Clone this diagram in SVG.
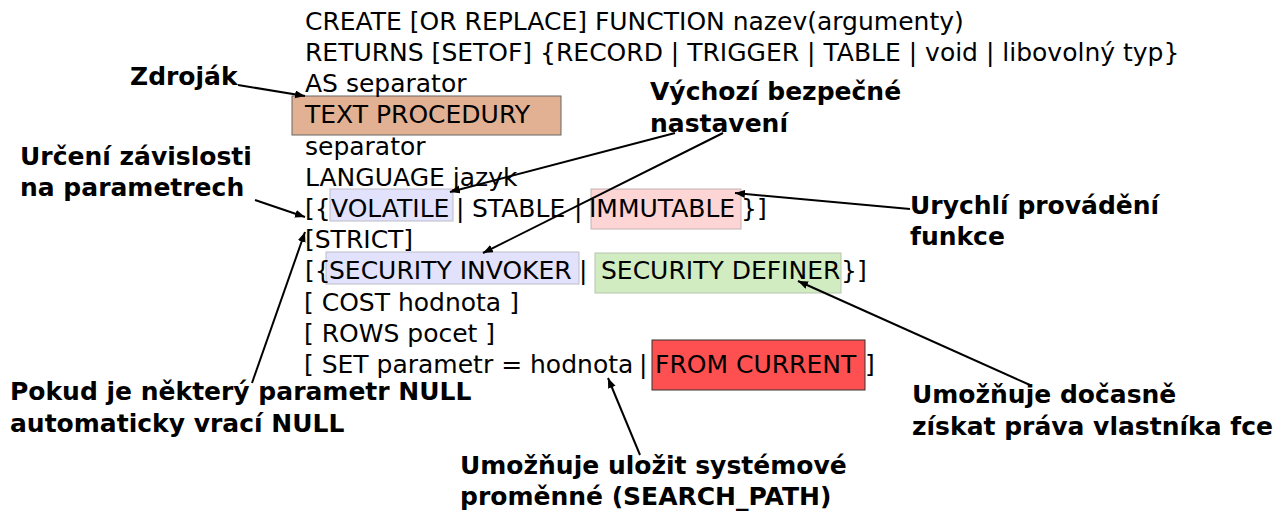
<svg xmlns="http://www.w3.org/2000/svg" width="1285" height="511" viewBox="0 0 1285 511">
<defs>
<style>
.code{font-family:"DejaVu Sans",sans-serif;font-size:25px;fill:#000}
.lbl{font-family:"DejaVu Sans",sans-serif;font-size:25px;font-weight:bold;fill:#000}
.con{stroke:#000;stroke-width:2;fill:none;marker-end:url(#ah)}
</style>
<marker id="ah" markerUnits="userSpaceOnUse" markerWidth="12" markerHeight="10" refX="10" refY="4" orient="auto">
<path d="M0,0 L10,4 L0,8 Z" fill="#000"/>
</marker>
</defs>
<rect width="1285" height="511" fill="#fff"/>
<g id="code">
<rect x="292" y="96" width="269" height="39" fill="#e2b193" stroke="#666" stroke-width="1"/>
<rect x="330" y="189" width="123" height="32" fill="#e2e2fc" stroke="#bcbcc8" stroke-width="1"/>
<rect x="591" y="189" width="150" height="40" fill="#fdd5d5" stroke="#c4b4b4" stroke-width="1"/>
<rect x="326" y="252" width="253" height="32" fill="#e2e2fc" stroke="#bcbcc8" stroke-width="1"/>
<rect x="595" y="253" width="246" height="40" fill="#d1ecc0" stroke="#b8c4b0" stroke-width="1"/>
<rect x="652" y="340" width="213" height="50" fill="#fe5050" stroke="#333" stroke-width="1"/>
<text class="code" x="305" y="30">CREATE [OR REPLACE] FUNCTION nazev(argumenty)</text>
<text class="code" x="305" y="61">RETURNS [SETOF] {RECORD | TRIGGER | TABLE | void | libovolný typ}</text>
<text class="code" x="305" y="92">AS separator</text>
<text class="code" x="305" y="123">TEXT PROCEDURY</text>
<text class="code" x="305" y="155">separator</text>
<text class="code" x="305" y="186">LANGUAGE jazyk</text>
<text class="code" y="217"><tspan x="305">[{</tspan><tspan x="331">VOLATILE</tspan><tspan x="456">|</tspan><tspan x="472">STABLE</tspan><tspan x="574">|</tspan><tspan x="589">IMMUTABLE</tspan><tspan x="741">}]</tspan></text>
<text class="code" x="305" y="248">[STRICT]</text>
<text class="code" y="279"><tspan x="305">[{</tspan><tspan x="329">SECURITY INVOKER</tspan><tspan x="579">|</tspan><tspan x="601">SECURITY DEFINER</tspan><tspan x="841">}]</tspan></text>
<text class="code" x="304" y="311">[ COST hodnota ]</text>
<text class="code" x="304" y="342">[ ROWS pocet ]</text>
<text class="code" y="373"><tspan x="304">[ SET parametr = hodnota</tspan><tspan x="639">|</tspan><tspan x="655">FROM CURRENT</tspan><tspan x="865">]</tspan></text>
</g>
<g id="zdrojak"><text class="lbl" x="130" y="85">Zdroják</text></g>
<g id="vychozi"><text class="lbl" x="650" y="100">Výchozí bezpečné</text><text class="lbl" x="650" y="132">nastavení</text></g>
<g id="urceni"><text class="lbl" x="20" y="165">Určení závislosti</text><text class="lbl" x="20" y="196">na parametrech</text></g>
<g id="urychli"><text class="lbl" x="910" y="214">Urychlí provádění</text><text class="lbl" x="910" y="245">funkce</text></g>
<g id="pokud"><text class="lbl" x="10" y="400">Pokud je některý parametr NULL</text><text class="lbl" x="10" y="432">automaticky vrací NULL</text></g>
<g id="docasne"><text class="lbl" x="912" y="403">Umožňuje dočasně</text><text class="lbl" x="912" y="435">získat práva vlastníka fce</text></g>
<g id="ulozit"><text class="lbl" x="460" y="474">Umožňuje uložit systémové</text><text class="lbl" x="460" y="505">proměnné (SEARCH_PATH)</text></g>
<g id="connectors">
<line class="con" x1="238" y1="85" x2="305" y2="96"/>
<line class="con" x1="675" y1="133" x2="450" y2="192"/>
<line class="con" x1="723" y1="133" x2="483" y2="253"/>
<line class="con" x1="910" y1="209" x2="735" y2="193"/>
<line class="con" x1="255" y1="200" x2="305" y2="217"/>
<line class="con" x1="252" y1="383" x2="305" y2="232"/>
<line class="con" x1="1030" y1="385" x2="798" y2="281"/>
<line class="con" x1="640" y1="455" x2="608" y2="378"/>
</g>
</svg>
